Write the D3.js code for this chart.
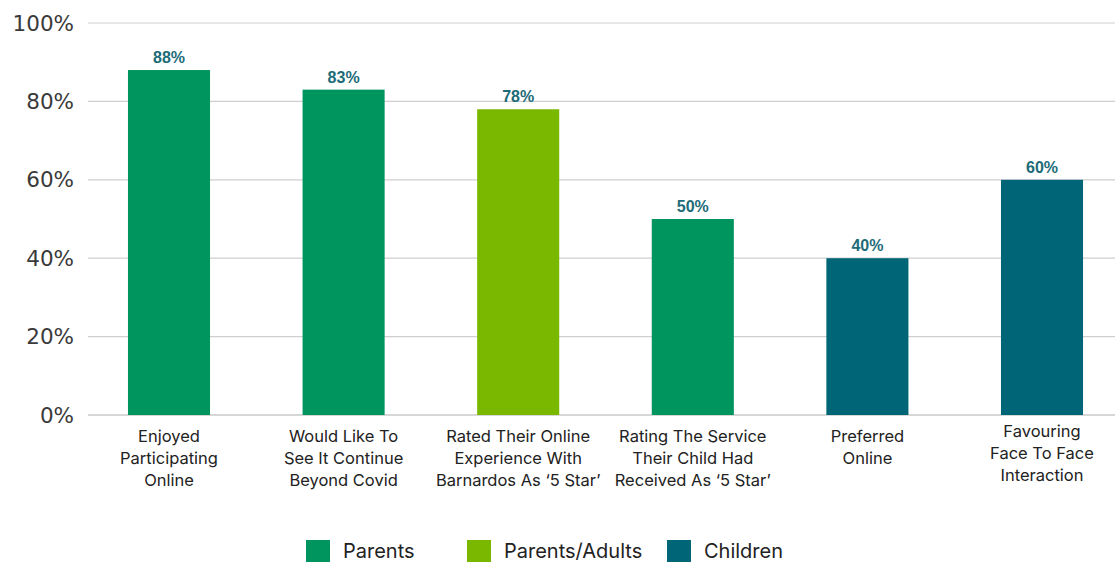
<!DOCTYPE html>
<html><head><meta charset="utf-8">
<script src="https://cdn.jsdelivr.net/npm/d3@7"></script>
<style>body{margin:0;background:#fff}svg{display:block}</style>
</head><body><svg id="c" width="1115" height="562"></svg>
<script>
const categories = [
  ["Enjoyed","Participating","Online"],
  ["Would Like To","See It Continue","Beyond Covid"],
  ["Rated Their Online","Experience With","Barnardos As ‘5 Star’"],
  ["Rating The Service","Their Child Had","Received As ‘5 Star’"],
  ["Preferred","Online"],
  ["Favouring","Face To Face","Interaction"]
];
const values = [88, 83, 78, 50, 40, 60];
const groups = ["Parents","Parents","Parents/Adults","Parents","Children","Children"];
const seriesNames = ["Parents","Parents/Adults","Children"];
const seriesColors = ["#00945e","#7ab800","#006677"];
const yTicks = [0,20,40,60,80,100];

const svg = d3.select("#c");
const color = d3.scaleOrdinal().domain(seriesNames).range(seriesColors);
const x = d3.scaleBand().domain(d3.range(values.length)).range([81.7,1129.3]).paddingInner(0.53).paddingOuter(0.265);
const y = d3.scaleLinear().domain([0,100]).range([415,23]);
const labelFont = "Inter, 'Liberation Sans', Arial, sans-serif";

// grid
svg.append("g").selectAll("line").data(yTicks).join("line")
  .attr("x1",88).attr("x2",1115)
  .attr("y1",d=>y(d)).attr("y2",d=>y(d))
  .attr("stroke",d=>d===0?"#b0b0b0":"#cfcfcf").attr("stroke-width",1.2);

// y labels
svg.append("g").selectAll("text").data(yTicks).join("text")
  .attr("x",74).attr("y",d=>y(d)).attr("dy","0.35em")
  .attr("text-anchor","end")
  .attr("font-family","'DejaVu Sans', sans-serif").attr("font-size",21.5)
  .attr("fill","#3a3a3a").text(d=>d+"%");

// bars
svg.append("g").selectAll("rect").data(values).join("rect")
  .attr("x",(d,i)=>x(i)).attr("width",x.bandwidth())
  .attr("y",d=>y(d)).attr("height",d=>y(0)-y(d))
  .attr("fill",(d,i)=>color(groups[i]));

// value labels
svg.append("g").selectAll("text").data(values).join("text")
  .attr("x",(d,i)=>x(i)+x.bandwidth()/2).attr("y",d=>y(d)-7)
  .attr("text-anchor","middle")
  .attr("font-family","'Liberation Sans', Arial, sans-serif").attr("font-weight","bold").attr("font-size",16)
  .attr("fill","#1d6b78").text(d=>d+"%");

// category labels
const cg = svg.append("g").attr("font-family",labelFont).attr("font-size",16.5).attr("fill","#222");
categories.forEach((lines,i)=>{
  const cx = x(i)+x.bandwidth()/2, y0 = (i===5?431:436);
  const t = cg.append("text").attr("text-anchor","middle").attr("x",cx).attr("y",y0);
  lines.forEach((l,j)=>t.append("tspan").attr("x",cx).attr("y",y0+j*22).attr("dy","0.35em").text(l));
});

// legend
const legX = [306,467,667];
const lg = svg.append("g");
seriesNames.forEach((s,i)=>{
  lg.append("rect").attr("x",legX[i]).attr("y",540).attr("width",24).attr("height",22).attr("fill",color(s));
  lg.append("text").attr("x",legX[i]+37).attr("y",551).attr("dy","0.35em")
    .attr("font-family",labelFont).attr("font-size",20).attr("fill","#222").text(s);
});
</script></body></html>
